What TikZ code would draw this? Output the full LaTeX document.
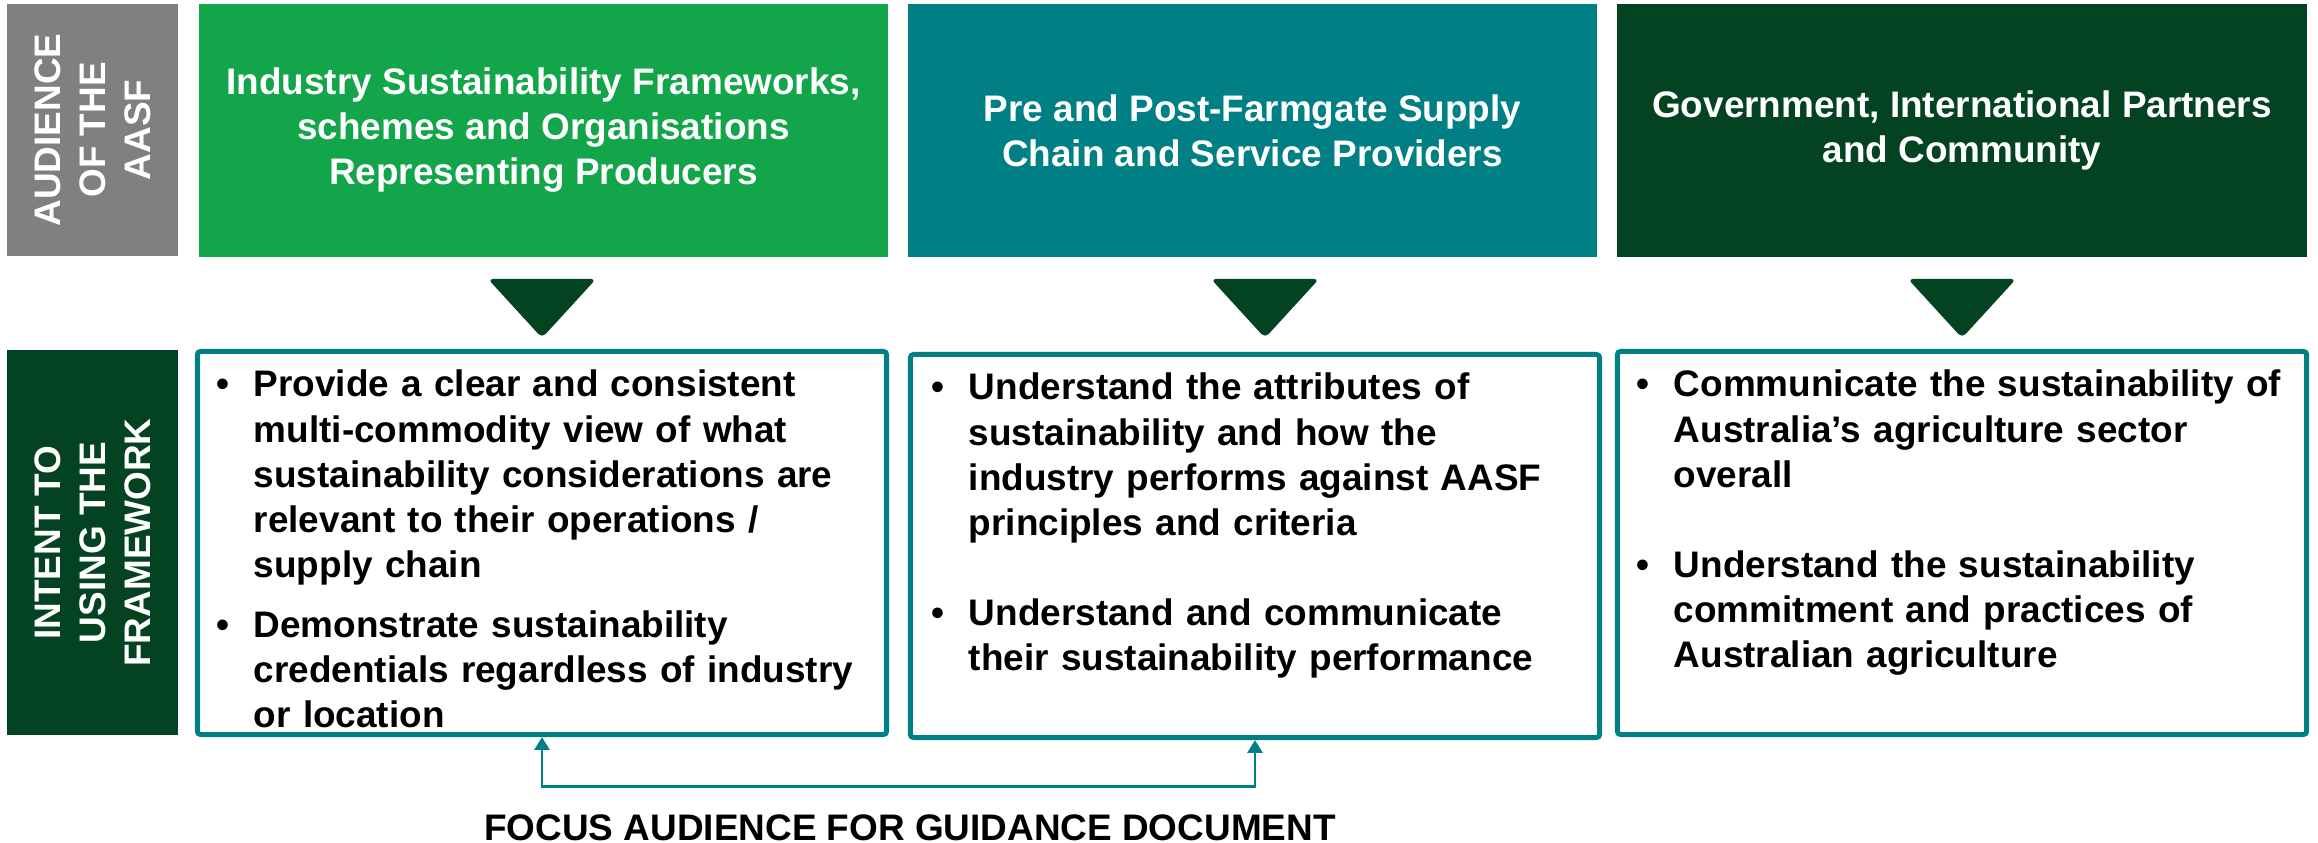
\documentclass[tikz,border=0pt]{standalone}
\usepackage{fontspec}
\setmainfont{Liberation Sans}
\usetikzlibrary{arrows.meta,positioning}

\definecolor{aasfgray}{RGB}{128,128,128}
\definecolor{aasfgreen}{RGB}{19,165,74}
\definecolor{aasfteal}{RGB}{0,128,132}
\definecolor{aasfdark}{RGB}{3,67,34}

\newcommand{\bpoint}[1]{\hangindent=10.7pt\hangafter=1\noindent\makebox[10.7pt][l]{\textbullet}#1\par}

\begin{document}
\begin{tikzpicture}[x=0.01cm,y=-0.01cm,>={Triangle[length=3.6pt,width=4.2pt]},
                    font=\fontsize{10.5}{12.8}\selectfont\bfseries]
  \tikzstyle{hdr}=[inner sep=0pt,text=white,align=center,minimum width=6.89cm,minimum height=2.53cm]
  \tikzstyle{side}=[inner sep=0pt,text=white,align=center,rotate=90,minimum height=1.71cm]
  \tikzstyle{outbox}=[draw=aasfteal,line width=0.05cm,rounded corners=1pt,minimum width=6.89cm,minimum height=3.83cm]
  \tikzstyle{bodytext}=[inner sep=0pt,text width=6.6cm,anchor=base west]
  \tikzstyle{focus}=[<->,draw=aasfteal,line width=0.8pt]

  \useasboundingbox (0,0) rectangle (2318,843);

  % row labels
  \node[side,fill=aasfgray,minimum width=2.52cm] (audience) at (92.5,130) {AUDIENCE\\OF THE\\AASF};
  \node[side,fill=aasfdark,minimum width=3.85cm] (intent) at (92.5,542.5) {INTENT TO\\USING THE\\FRAMEWORK};

  % audience headers
  \node[hdr,fill=aasfgreen] (hdrind) at (543.5,130.5) {Industry Sustainability Frameworks,\\schemes and Organisations\\Representing Producers};
  \node[hdr,fill=aasfteal] (hdrsupply) at (1252.5,130.5) {Pre and Post-Farmgate Supply\\Chain and Service Providers};
  \node[hdr,fill=aasfdark] (hdrgov) at (1962,130.5) {Government, International Partners\\and Community};

  % down triangles
  \fill[aasfdark,rounded corners=1.5pt] (488,279) -- (596,279) -- (542,338) -- cycle;
  \fill[aasfdark,rounded corners=1.5pt] (1211,279) -- (1319,279) -- (1265,338) -- cycle;
  \fill[aasfdark,rounded corners=1.5pt] (1908,279) -- (2016,279) -- (1962,338) -- cycle;

  % intent boxes
  \node[outbox] (boxind) at (542,543) {};
  \node[outbox] (boxsupply) at (1255,546) {};
  \node[outbox] (boxgov) at (1962,543) {};

  \node[bodytext] (txtind) at (215.5,397) {%
    \bpoint{Provide a clear and consistent\newline multi-commodity view of what\newline sustainability considerations are\newline relevant to their operations /\newline supply chain}
    \vspace{4.5pt}
    \bpoint{Demonstrate sustainability\newline credentials regardless of industry\newline or location}};
  \node[bodytext] (txtsupply) at (930.5,400) {%
    \bpoint{Understand the attributes of\newline sustainability and how the\newline industry performs against AASF\newline principles and criteria}
    \vspace{12.8pt}
    \bpoint{Understand and communicate\newline their sustainability performance}};
  \node[bodytext] (txtgov) at (1635.5,397) {%
    \bpoint{Communicate the sustainability of\newline Australia’s agriculture sector\newline overall}
    \vspace{12.8pt}
    \bpoint{Understand the sustainability\newline commitment and practices of\newline Australian agriculture}};

  % focus audience
  \draw[focus] (boxind.south) -- ++(0,49) -| (boxsupply.south);
  \node[inner sep=0pt,anchor=base] (focuslbl) at (910,840) {FOCUS AUDIENCE FOR GUIDANCE DOCUMENT};
\end{tikzpicture}
\end{document}
